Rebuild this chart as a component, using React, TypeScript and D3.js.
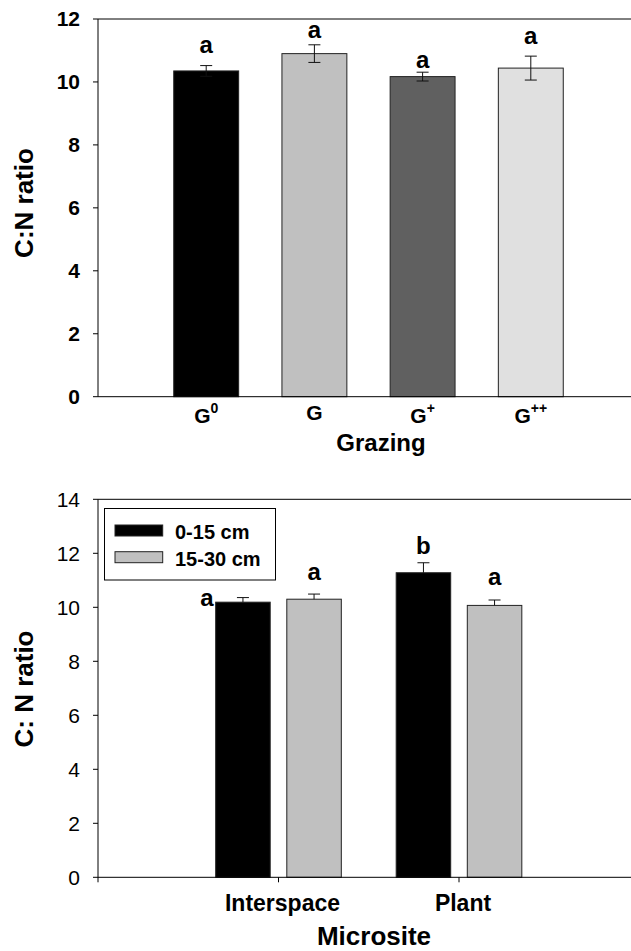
import React from "react";
import * as d3 from "d3";

// ---- Top panel data (Grazing) ----
const grazingCats = ["G0", "G", "G+", "G++"];
const grazingBase = ["G", "G", "G", "G"];
const grazingSup = ["0", "", "+", "++"];
const grazingMeans = [10.35, 10.9, 10.17, 10.44];
const grazingSE = [0.17, 0.28, 0.14, 0.38];
const grazingLetters = ["a", "a", "a", "a"];
const grazingColors = ["#000000", "#c0c0c0", "#606060", "#e0e0e0"];
const topTicks = [0, 2, 4, 6, 8, 10, 12];

// ---- Bottom panel data (Microsite) ----
const micrositeCats = ["Interspace", "Plant"];
const depthSeries = ["0-15 cm", "15-30 cm"];
const depth0_15 = [10.19, 11.28];
const depth0_15SE = [0.17, 0.37];
const depth15_30 = [10.3, 10.07];
const depth15_30SE = [0.19, 0.2];
const depth0_15Letters = ["a", "b"];
const depth15_30Letters = ["a", "a"];
const depthColors = ["#000000", "#c0c0c0"];
const bottomTicks = [0, 2, 4, 6, 8, 10, 12, 14];

const FONT = "'Liberation Sans', Arial, Helvetica, sans-serif";

export default function App() {
  const W = 631;
  const H = 951;
  const axisX = 98;

  // Top scales
  const xTop = d3.scaleLinear().domain([0, 5]).range([axisX, axisX + 5 * 108.2]);
  const yTop = d3.scaleLinear().domain([0, 12]).range([396.7, 19]);
  const topBarW = xTop(0.6) - xTop(0);

  // Bottom scales
  const xBot = d3.scaleLinear().domain([0, 3]).range([axisX, axisX + 3 * 180.5]);
  const yBot = d3.scaleLinear().domain([0, 14]).range([877.3, 499.3]);
  const botBarW = xBot(0.302) - xBot(0);
  const botOffset = xBot(0.197) - xBot(0);

  const topLetterGap = [13, 7, 4.5, 12];
  const capW = 12;

  const bottomSeries = [
    { vals: depth0_15, se: depth0_15SE, letters: depth0_15Letters, color: depthColors[0], off: -botOffset },
    { vals: depth15_30, se: depth15_30SE, letters: depth15_30Letters, color: depthColors[1], off: botOffset },
  ];
  const botLetterGap = [
    [null, 14],
    [9, 15],
  ];

  return (
    <svg width={W} height={H} style={{ display: "block", position: "absolute", left: 0, top: 0 }} fontFamily={FONT}>
      <rect x={0} y={0} width={W} height={H} fill="#ffffff" />

      {/* ===== TOP PANEL ===== */}
      <g>
        {grazingCats.map((c, i) => {
          const cx = xTop(i + 1);
          const yv = yTop(grazingMeans[i]);
          const yHi = yTop(grazingMeans[i] + grazingSE[i]);
          const yLo = yTop(grazingMeans[i] - grazingSE[i]);
          return (
            <g key={c}>
              <rect x={cx - topBarW / 2} y={yv} width={topBarW} height={yTop(0) - yv} fill={grazingColors[i]} stroke="#222" strokeWidth={1} />
              <line x1={cx} x2={cx} y1={yHi} y2={yLo} stroke="#111" strokeWidth={1} />
              <line x1={cx - capW / 2} x2={cx + capW / 2} y1={yHi} y2={yHi} stroke="#111" strokeWidth={1} />
              <line x1={cx - capW / 2} x2={cx + capW / 2} y1={yLo} y2={yLo} stroke="#111" strokeWidth={1} />
              <text x={cx} y={yHi - topLetterGap[i]} textAnchor="middle" fontSize={24} fontWeight="bold" fill="#000">
                {grazingLetters[i]}
              </text>
              <text x={cx} y={grazingSup[i] === "" ? 420 : 423} textAnchor="middle" fontSize={21} fontWeight="bold" fill="#000">
                {grazingBase[i]}
                {grazingSup[i] !== "" && (
                  <tspan fontSize={14} dy={-10}>{grazingSup[i]}</tspan>
                )}
              </text>
            </g>
          );
        })}
        {/* axes */}
        <line x1={axisX} x2={W} y1={yTop(12)} y2={yTop(12)} stroke="#000" strokeWidth={1} />
        <line x1={axisX} x2={W} y1={yTop(0)} y2={yTop(0)} stroke="#000" strokeWidth={1} />
        <line x1={axisX} x2={axisX} y1={yTop(12)} y2={yTop(0)} stroke="#000" strokeWidth={1} />
        {topTicks.map((t) => (
          <g key={t}>
            <line x1={axisX - 5} x2={axisX} y1={yTop(t)} y2={yTop(t)} stroke="#000" strokeWidth={1} />
            <text x={axisX - 18} y={yTop(t)} dy="0.35em" textAnchor="end" fontSize={21} fontWeight="bold" fill="#000">
              {t}
            </text>
          </g>
        ))}
        <text x={24} y={203} transform="rotate(-90 24 203)" dy="0.35em" textAnchor="middle" fontSize={26} fontWeight="bold" fill="#000">
          C:N ratio
        </text>
        <text x={381} y={451} textAnchor="middle" fontSize={24} fontWeight="bold" fill="#000">
          Grazing
        </text>
      </g>

      {/* ===== BOTTOM PANEL ===== */}
      <g>
        {micrositeCats.map((c, gi) =>
          bottomSeries.map((s, si) => {
            const cx = xBot(gi + 1) + s.off;
            const yv = yBot(s.vals[gi]);
            const yHi = yBot(s.vals[gi] + s.se[gi]);
            const gap = botLetterGap[gi][si];
            return (
              <g key={c + si}>
                <rect x={cx - botBarW / 2} y={yv} width={botBarW} height={yBot(0) - yv} fill={s.color} stroke="#222" strokeWidth={1} />
                <line x1={cx} x2={cx} y1={yHi} y2={yv} stroke="#111" strokeWidth={1} />
                <line x1={cx - capW / 2} x2={cx + capW / 2} y1={yHi} y2={yHi} stroke="#111" strokeWidth={1} />
                {gap === null ? (
                  <text x={cx - botBarW / 2 - 2} y={yv + 4} textAnchor="end" fontSize={24} fontWeight="bold" fill="#000">
                    {s.letters[gi]}
                  </text>
                ) : (
                  <text x={cx} y={yHi - gap} textAnchor="middle" fontSize={24} fontWeight="bold" fill="#000">
                    {s.letters[gi]}
                  </text>
                )}
              </g>
            );
          })
        )}
        {/* axes */}
        <line x1={axisX} x2={W} y1={yBot(14)} y2={yBot(14)} stroke="#000" strokeWidth={1} />
        <line x1={axisX} x2={W} y1={yBot(0)} y2={yBot(0)} stroke="#000" strokeWidth={1} />
        <line x1={axisX} x2={axisX} y1={yBot(14)} y2={yBot(0) + 5} stroke="#000" strokeWidth={1} />
        {bottomTicks.map((t) => (
          <g key={t}>
            <line x1={axisX - 5} x2={axisX} y1={yBot(t)} y2={yBot(t)} stroke="#000" strokeWidth={1} />
            <text x={axisX - 18} y={yBot(t)} dy="0.35em" textAnchor="end" fontSize={21} fill="#000">
              {t}
            </text>
          </g>
        ))}
        {micrositeCats.map((c, gi) => (
          <g key={c}>
            <line x1={xBot(gi + 1)} x2={xBot(gi + 1)} y1={yBot(0)} y2={yBot(0) + 5} stroke="#000" strokeWidth={1} />
            <text x={xBot(gi + 1) + 4} y={911} textAnchor="middle" fontSize={23} fontWeight="bold" fill="#000">
              {c}
            </text>
          </g>
        ))}
        <text x={24} y={689} transform="rotate(-90 24 689)" dy="0.35em" textAnchor="middle" fontSize={26} fontWeight="bold" fill="#000">
          C: N ratio
        </text>
        <text x={374} y={945} textAnchor="middle" fontSize={26} fontWeight="bold" fill="#000">
          Microsite
        </text>

        {/* legend */}
        <rect x={104.5} y={508.5} width={171} height={71.5} fill="#ffffff" stroke="#000" strokeWidth={1} />
        {depthSeries.map((name, i) => (
          <g key={name}>
            <rect x={115} y={525 + i * 26.7} width={47.7} height={11} fill={depthColors[i]} stroke="#222" strokeWidth={1} />
            <text x={175} y={539.3 + i * 26.4} fontSize={20} fontWeight="bold" fill="#000">
              {name}
            </text>
          </g>
        ))}
      </g>
    </svg>
  );
}
